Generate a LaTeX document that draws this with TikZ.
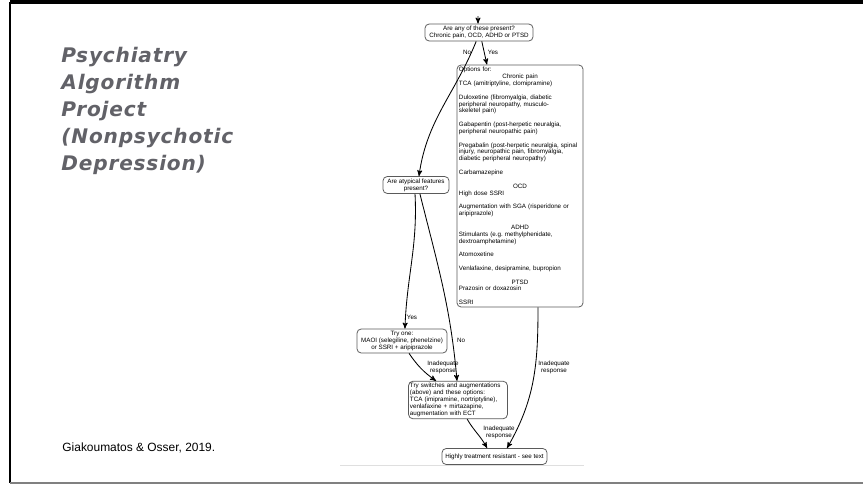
\documentclass[tikz,border=0pt]{standalone}
\usepackage{fontspec}
\setmainfont{Liberation Sans}
\newfontfamily\titlefont[LetterSpace=4]{DejaVu Sans}
\usetikzlibrary{arrows,positioning}
\definecolor{titlegray}{RGB}{98,98,104}
\definecolor{boxgray}{RGB}{90,90,90}
\newcommand{\chartfont}{\fontsize{4.45}{4.87}\selectfont}
\newcommand{\hd}[1]{\leavevmode\hbox to\hsize{\hss#1\hss}}
\newcommand{\gapsz}{4.87pt}
\frenchspacing

\begin{document}
\begin{tikzpicture}[->,>=stealth',x=0.025cm,y=-0.025cm,line width=0.6pt]
\tikzstyle{box}=[draw=boxgray,line width=0.55pt,rounded corners=3pt,font=\chartfont,text=black,align=center,inner sep=1.5pt]
\tikzstyle{lbl}=[font=\chartfont,text=black,align=center,inner sep=0pt]
\useasboundingbox (0,0) rectangle (863,487);

% slide frame
\draw[-,line width=2.2pt] (10,2) -- (863,2);
\draw[-,line width=1.6pt] (10,2) -- (10,483);
\draw[-,gray,line width=1pt] (10,483) -- (863,483);
\draw[-,gray!25,line width=0.5pt] (340,465) -- (584,465);

% title and source
\node[anchor=north west,inner sep=0pt,align=left,text=titlegray,
      font=\titlefont\bfseries\itshape\fontsize{14.3}{19.2}\selectfont] (title) at (61,47)
  {Psychiatry\\Algorithm\\Project\\(Nonpsychotic\\Depression)};
\node[anchor=west,inner sep=0pt,font=\fontsize{8.5}{10}\selectfont] (cite) at (62,448)
  {Giakoumatos \& Osser, 2019.};

% flowchart
\node[box,minimum width=2.7cm,minimum height=0.425cm] (q1) at (479,32.5)
  {Are any of these present?\\Chronic pain, OCD, ADHD or PTSD};
\coordinate (entry) at (478,16);
\node[box,minimum width=3.15cm,minimum height=6.05cm,text width=3.05cm,align=left,inner xsep=1.2pt] (opt) at (520,186)
  {Options for:\\
   \hd{Chronic pain}\\
   TCA (amitriptyline, clomipramine)\\[\gapsz]
   Duloxetine (fibromyalgia, diabetic\\
   peripheral neuropathy, musculo-\\
   skeletel pain)\\[\gapsz]
   Gabapentin (post-herpetic neuralgia,\\
   peripheral neuropathic pain)\\[\gapsz]
   Pregabalin (post-herpetic neuralgia, spinal\\
   injury, neuropathic pain, fibromyalgia,\\
   diabetic peripheral neuropathy)\\[\gapsz]
   Carbamazepine\\[\gapsz]
   \hd{OCD}\\
   High dose SSRI\\[\gapsz]
   Augmentation with SGA (risperidone or\\
   aripiprazole)\\[\gapsz]
   \hd{ADHD}\\
   Stimulants (e.g. methylphenidate,\\
   dextroamphetamine)\\[\gapsz]
   Atomoxetine\\[\gapsz]
   Venlafaxine, desipramine, bupropion\\[\gapsz]
   \hd{PTSD}\\
   Prazosin or doxazosin\\[\gapsz]
   SSRI};
\node[box,minimum width=1.65cm,minimum height=0.4cm] (atyp) at (416,185)
  {Are atypical features\\present?};
\node[box,minimum width=2.25cm,minimum height=0.6cm] (maoi) at (402,341)
  {Try one:\\MAOI (selegiline, phenelzine)\\or SSRI + aripiprazole};
\node[box,minimum width=2.45cm,minimum height=0.9cm,text width=2.4cm,align=left,inner xsep=1pt] (sw) at (458,400)
  {Try switches and augmentations\\(above) and these options:\\TCA (imipramine, nortriptyline),\\venlafaxine + mirtazapine,\\augmentation with ECT};
\node[box,minimum width=2.625cm,minimum height=0.4cm] (hi) at (494.5,456.5)
  {Highly treatment resistant - see text};

% labels
\node[lbl] (lNo1) at (467,52) {No};
\node[lbl] (lYes1) at (493,52) {Yes};
\node[lbl] (lYes2) at (412,317) {Yes};
\node[lbl] (lNo2) at (461,340) {No};
\node[lbl] (lInad1) at (443,367) {Inadequate\\response};
\node[lbl] (lInad2) at (499,432) {Inadequate\\response};
\node[lbl] (lInad3) at (554,367) {Inadequate\\response};

% connectors
\draw (entry) -- ([xshift=-0.7pt]q1.north);
\draw ([xshift=-2pt]q1.south) to[out=-112,in=82] ([xshift=2.1pt]atyp.north);
\draw ([xshift=2pt]q1.south) -- ([xshift=-23.5pt]opt.north);
\draw ([xshift=-0.7pt]atyp.south) to[out=-87,in=88] ([xshift=2.1pt]maoi.north);
\draw ([xshift=2.8pt]atyp.south) to[out=-76,in=95] ([xshift=-0.7pt]sw.north);
\draw ([xshift=5pt]maoi.south) to[bend right=10] ([xshift=-15.6pt]sw.north);
\draw ([xshift=6.5pt]sw.south) to[out=-60,in=118] ([xshift=-5.3pt]hi.north);
\draw ([xshift=12.8pt]opt.south) to[out=-90,in=60] ([xshift=8.9pt]hi.north);
\end{tikzpicture}
\end{document}
